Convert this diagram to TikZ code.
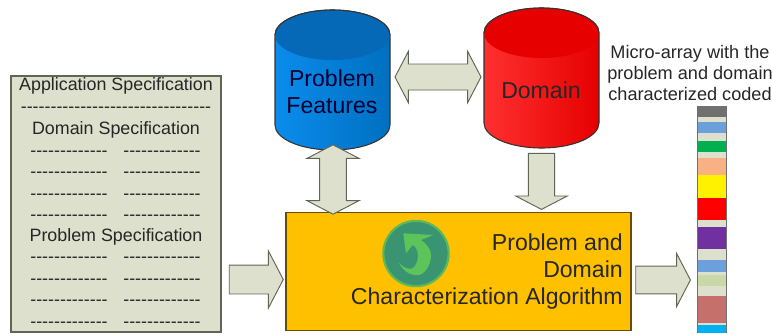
\documentclass[tikz,border=0pt]{standalone}
\usepackage{fontspec}
\setmainfont[Ligatures=TeXOff]{Liberation Sans}
\usetikzlibrary{shapes.arrows}
\definecolor{sage}{HTML}{DDE0CD}
\definecolor{sageedge}{HTML}{5F6655}
\definecolor{drumblue}{HTML}{0070C0}
\definecolor{drumtop}{HTML}{0669B8}
\definecolor{drumlight}{HTML}{0A8CEC}
\definecolor{drumred}{HTML}{E60000}
\definecolor{drumpink}{HTML}{FF3030}
\definecolor{algoorange}{HTML}{FFC000}
\definecolor{logofill}{HTML}{3A9472}
\definecolor{logoedge}{HTML}{5DB85A}
\definecolor{logoarrow}{HTML}{5CC45A}
\definecolor{cellgray}{HTML}{707070}
\definecolor{cellblue}{HTML}{6C9FDC}
\definecolor{cellgreen}{HTML}{00B050}
\definecolor{cellpeach}{HTML}{F9B183}
\definecolor{cellpurple}{HTML}{7030A0}
\definecolor{cellpale}{HTML}{C8D8A8}
\definecolor{cellrose}{HTML}{C5706A}
\definecolor{cellcyan}{HTML}{00B0F0}
\tikzset{
  blockarrow/.style={draw=sageedge, fill=sage, line width=0.7pt, outer sep=0pt, inner xsep=0pt, anchor=center},
  smalltext/.style={font=\fontsize{13.4}{16}\selectfont, inner sep=0pt, text=black!85},
  bigtext/.style={font=\fontsize{17.3}{20.6}\selectfont, inner sep=0pt, text=black!85},
  drumline/.style={draw=black!80, line width=0.8pt}
}
\begin{document}
\begin{tikzpicture}[x=0.75pt,y=-0.75pt]
    \useasboundingbox (0,0) rectangle (772,333);
    % specification sheet
    \node [draw=sageedge, fill=sage, line width=0.8pt, minimum width=157.5pt, minimum height=192pt, inner sep=0pt] (sheet) at (116,204) {};
    \node [smalltext] (apptitle) at (116,86) {Application Specification};
    \node [smalltext] (applist) at (116,110) {--------------------------------};
    \node [smalltext] (domtitle) at (116,130) {Domain Specification};
    \node [smalltext] (protitle) at (116,237) {Problem Specification};
    \foreach \rowy in {153.5,174.5,196.5,217.5,259.5,281.5,302.5,324.5} {
      \node [smalltext] at (69,\rowy) {-------------};
      \node [smalltext] at (162,\rowy) {-------------};
    }
    % problem features drum
    \draw [drumline, left color=drumlight, right color=drumblue] (275,35) -- (275,125) arc [x radius=57.5, y radius=25, start angle=180, end angle=0] -- (390,35) arc [x radius=57.5, y radius=25, start angle=0, end angle=-180] -- cycle;
    \fill [drumtop] (275,35) arc [x radius=57.5, y radius=25, start angle=180, end angle=540];
    \draw [drumline] (275,35) arc [x radius=57.5, y radius=25, start angle=180, end angle=360];
    \node [bigtext, align=center, text=black!80!blue] (features) at (332,91.5) {Problem\\Features};
    % domain drum
    \draw [drumline, left color=drumpink, right color=drumred] (484,33) -- (484,123) arc [x radius=57.5, y radius=25, start angle=180, end angle=0] -- (599,33) arc [x radius=57.5, y radius=25, start angle=0, end angle=-180] -- cycle;
    \fill [drumred] (484,33) arc [x radius=57.5, y radius=25, start angle=180, end angle=540];
    \draw [drumline] (484,33) arc [x radius=57.5, y radius=25, start angle=180, end angle=360];
    \node [bigtext] (domain) at (541,90) {Domain};
    % algorithm box
    \node [draw=black!60!algoorange, fill=algoorange, line width=0.8pt, minimum width=258.75pt, minimum height=89pt, inner sep=0pt] (algo) at (458.5,271.5) {};
    \node [bigtext, align=right, anchor=east] (algotext) at (623,271.5) {Problem and\\Domain\\Characterization Algorithm};
    \node [circle, draw=logoedge, fill=logofill, line width=1.6pt, minimum size=49pt, inner sep=0pt] (logo) at (416,253.5) {};
    \fill [logoarrow] (433.3,235) -- (403.3,233.3) -- (406,253.3) -- (412.7,245) .. controls (419.3,248.3) and (420,262) .. (412.7,268.3) .. controls (408,270) and (403,267) .. (398.7,262.7) .. controls (404.3,273.3) and (413,276) .. (419.3,275) .. controls (427.7,272) and (431,262) .. (431,255) .. controls (431,249) and (426,243.3) .. (421,240) -- cycle;
    % block arrows
    \node [blockarrow, double arrow, double arrow tip angle=125, double arrow head extend=9.4pt, inner ysep=9.4pt, minimum height=64.5pt] (featdom) at (438,77) {};
    \node [blockarrow, double arrow, rotate=90, double arrow tip angle=125, double arrow head extend=9.5pt, inner ysep=9.7pt, minimum height=52pt] (featalgo) at (333,179.5) {};
    \node [blockarrow, single arrow, rotate=-90, single arrow tip angle=125, single arrow head extend=9.5pt, inner ysep=9.5pt, minimum height=42pt] (domalgo) at (541.5,178) {};
    \node [blockarrow, single arrow, single arrow tip angle=125, single arrow head extend=10.5pt, inner ysep=10.5pt, minimum height=40.5pt] (sheetalgo) at (252.5,279.5) {};
    \node [blockarrow, single arrow, single arrow tip angle=125, single arrow head extend=9.5pt, inner ysep=10pt, minimum height=41pt] (algoarray) at (659.5,280) {};
    % micro-array
    \node [smalltext, font=\fontsize{13.6}{15.6}\selectfont, align=center] (arraytext) at (690,73) {Micro-array with the\\problem and domain\\characterized coded};
    \fill [cellgray] (697,106) rectangle (727,333);
    \foreach \ya/\yb/\col in {106/117/cellgray,117/122/sage,122/133/cellblue,133/141/sage,141/152/cellgreen,152/158/sage,158/175/cellpeach,175/198/yellow,198/220/red,220/227/sage,227/249/cellpurple,249/260/sage,260/272/cellblue,272/275/sage,275/286/cellpale,286/296/sage,296/323/cellrose,323/325/sage,325/333/cellcyan}
      \fill [\col] (698,\ya) rectangle (726,\yb);
\end{tikzpicture}
\end{document}
